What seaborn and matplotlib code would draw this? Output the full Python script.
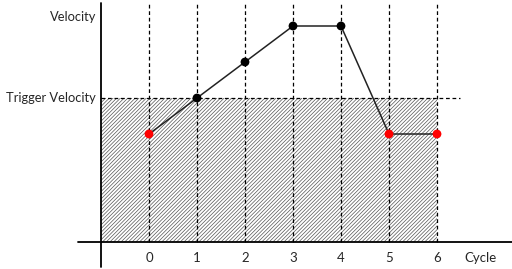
import matplotlib
matplotlib.use("Agg")
import matplotlib.pyplot as plt
import seaborn as sns
import pandas as pd
import numpy as np

cycles = [0, 1, 2, 3, 4, 5, 6]
velocity = [3, 4, 5, 6, 6, 3, 3]
point_colors = ["red", "black", "black", "black", "black", "red", "red"]
x_tick_labels = ["0", "1", "2", "3", "4", "5", "6"]
trigger_velocity = 4
y_labels = ["Velocity", "Trigger Velocity"]
y_label_values = [6.25, trigger_velocity]

sns.set_theme(style="white")
plt.rcParams['font.family'] = ['Lato', 'DejaVu Sans']
plt.rcParams['hatch.linewidth'] = 0.5

fig = plt.figure(figsize=(5.12, 2.69), dpi=100)
ax = fig.add_axes([0, 0, 1, 1])
ax.set_xlim(-149 / 48, (512 - 149) / 48)
ax.set_ylim(-27 / 36, 242 / 36)
ax.axis("off")

df = pd.DataFrame({"cycle": cycles, "velocity": velocity, "c": point_colors})

# hatched region below trigger velocity
ax.fill_between([-1, cycles[-1]], 0, trigger_velocity, facecolor="none",
                edgecolor="#555555", hatch="/////////", linewidth=0)

# vertical dashed grid lines
for c in cycles:
    ax.plot([c, c], [0, 6.64], color="black", lw=0.9, dashes=(3, 2.2))
# trigger velocity line
ax.plot([-1, 6.48], [trigger_velocity, trigger_velocity], color="black", lw=0.9, dashes=(3, 2.2))

# axes lines
ax.plot([-1.48, 7.6], [0, 0], color="black", lw=1.3, clip_on=False)
ax.plot([-1, -1], [-0.7, 6.64], color="black", lw=1.3, clip_on=False)

sns.lineplot(data=df, x="cycle", y="velocity", ax=ax, color="#222222", lw=1.1, zorder=3)
sns.scatterplot(data=df, x="cycle", y="velocity", hue="c", palette={"red": "red", "black": "black"},
                ax=ax, s=40, edgecolor="none", legend=False, zorder=4)

for c, lab in zip(cycles, x_tick_labels):
    ax.text(c, -0.44, lab, ha="center", va="center", fontsize=9.5)
ax.text(6.9, -0.44, "Cycle", ha="center", va="center", fontsize=9.5)
for v, lab in zip(y_label_values, y_labels):
    ax.text(-1.1, v, lab, ha="right", va="center", fontsize=9.3)

fig.savefig("out.png", dpi=100)
